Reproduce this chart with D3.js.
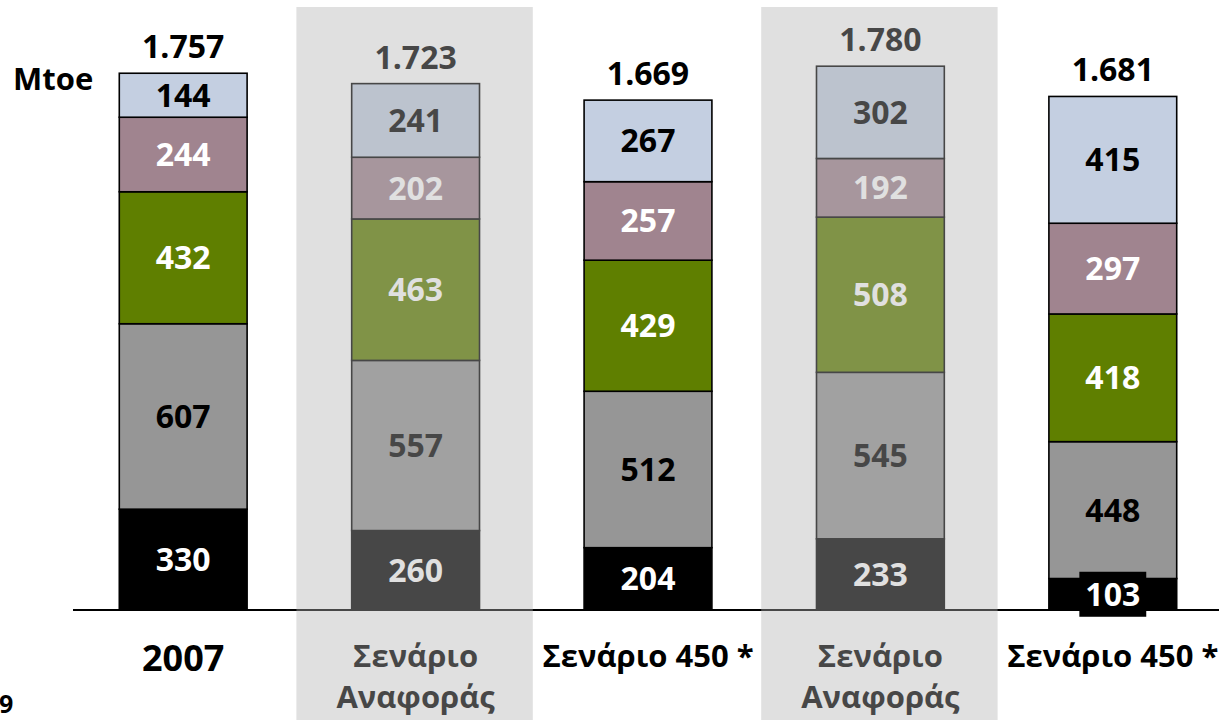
<!DOCTYPE html>
<html><head><meta charset="utf-8">
<script src="https://cdn.jsdelivr.net/npm/d3@7"></script>
<style>html,body{margin:0;padding:0;background:#fff;overflow:hidden}svg{display:block}</style>
</head><body>
<svg id="chart" width="1219" height="727"></svg>
<script>
// ---- data ----
const categoryLines = [["2007"], ["Σενάριο", "Αναφοράς"], ["Σενάριο 450 *"], ["Σενάριο", "Αναφοράς"], ["Σενάριο 450 *"]];
const highlighted = [false, true, false, true, false];
const seriesKeys = ["solid", "oil", "gas", "nuclear", "renewables"];
const solid = [330, 260, 204, 233, 103];
const oil = [607, 557, 512, 545, 448];
const gas = [432, 463, 429, 508, 418];
const nuclear = [244, 202, 257, 192, 297];
const renewables = [144, 241, 267, 302, 415];
const totals = [1757, 1723, 1669, 1780, 1681];
const unitLabel = "Mtoe";

// ---- styles ----
const fills = {solid: "#000000", oil: "#969696", gas: "#5f7f00", nuclear: "#a0848f", renewables: "#c4cfe1"};
const labelColors = {solid: "#ffffff", oil: "#000000", gas: "#ffffff", nuclear: "#ffffff", renewables: "#000000"};
const FONT = "'Open Sans', 'Noto Sans', 'DejaVu Sans', sans-serif";

const valuesByKey = {solid, oil, gas, nuclear, renewables};
const rows = categoryLines.map((c, i) => {
  const r = {idx: i};
  seriesKeys.forEach(k => r[k] = valuesByKey[k][i]);
  return r;
});
const stacked = d3.stack().keys(seriesKeys)(rows);

const svg = d3.select("#chart");
const baseY = 610;
const y = d3.scaleLinear().domain([0, 1800]).range([baseY, baseY - 1800 * 0.3055]);
const x = d3.scaleBand().domain(d3.range(categoryLines.length)).range([67, 1229]).paddingInner(0.45).paddingOuter(0.225);
const step = x.step();
const grLocale = d3.formatLocale({decimal: ",", thousands: ".", grouping: [3], currency: ["", "€"]});
const fmt = grLocale.format(",d");

// axis baseline
svg.append("line").attr("x1", 73).attr("x2", 1219).attr("y1", baseY).attr("y2", baseY)
  .attr("stroke", "#000").attr("stroke-width", 2);

// bars
const g = svg.append("g");
stacked.forEach(layer => {
  const key = layer.key;
  layer.forEach((d, i) => {
    const x0 = x(i), w = x.bandwidth();
    const yTop = y(d[1]), yBot = y(d[0]);
    g.append("rect").attr("x", x0).attr("y", yTop).attr("width", w).attr("height", yBot - yTop)
      .attr("fill", fills[key]).attr("stroke", "#000").attr("stroke-width", 1.6);
  });
});
// segment labels
stacked.forEach(layer => {
  const key = layer.key;
  layer.forEach((d, i) => {
    const cx = x(i) + x.bandwidth() / 2;
    const yTop = y(d[1]), yBot = y(d[0]);
    const cy = (yTop + yBot) / 2;
    const t = g.append("text").attr("x", cx).attr("y", cy).attr("dy", "0.36em")
      .attr("text-anchor", "middle").attr("font-family", FONT).attr("font-weight", 700)
      .attr("font-size", 32).attr("fill", labelColors[key]).text(d[1] - d[0]);
    if (yBot - yTop < 40) {
      const bb = t.node().getBBox();
      g.insert("rect", () => t.node()).attr("x", cx - bb.width / 2 - 6).attr("y", cy - 22.5)
        .attr("width", bb.width + 12).attr("height", 45).attr("fill", fills[key]);
    }
  });
});
// totals
totals.forEach((v, i) => {
  svg.append("text").attr("x", x(i) + x.bandwidth() / 2).attr("y", y(v) - 15)
    .attr("text-anchor", "middle").attr("font-family", FONT).attr("font-weight", 700)
    .attr("font-size", 32).attr("fill", "#000").text(fmt(v));
});
// category labels
categoryLines.forEach((lines, i) => {
  const cx = x(i) + x.bandwidth() / 2;
  const big = lines.length === 1 && /^\d+$/.test(lines[0]);
  lines.forEach((ln, j) => {
    svg.append("text").attr("x", cx).attr("y", (big ? 671 : 667) + j * 41)
      .attr("text-anchor", "middle").attr("font-family", FONT).attr("font-weight", 700)
      .attr("font-size", big ? 36 : 31).attr("fill", "#000").text(ln);
  });
});
// unit
svg.append("text").attr("x", 13).attr("y", 90).attr("font-family", FONT).attr("font-weight", 700)
  .attr("font-size", 31).attr("fill", "#000").text(unitLabel);
// cut-off footnote fragment
svg.append("text").attr("x", -1).attr("y", 713).attr("font-family", FONT).attr("font-weight", 700)
  .attr("font-size", 25).attr("fill", "#000").text("9");

// highlight overlays for reference scenarios
highlighted.forEach((h, i) => {
  if (!h) return;
  const cx = x(i) + x.bandwidth() / 2;
  svg.append("rect").attr("x", cx - step / 2 - 3).attr("y", 7).attr("width", step + 4).attr("height", 713)
    .attr("fill", "#b2b2b2").attr("fill-opacity", 0.4);
});
</script>
</body></html>
